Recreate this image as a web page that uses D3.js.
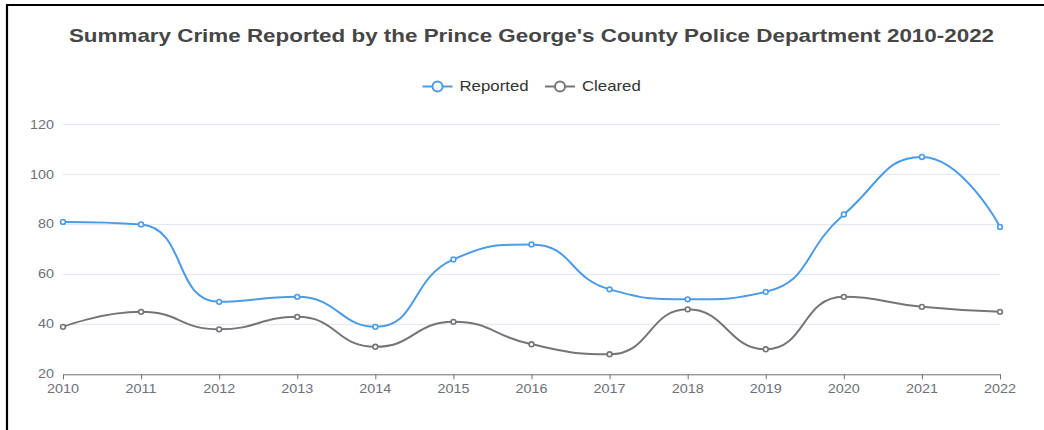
<!DOCTYPE html>
<html>
<head>
<meta charset="utf-8">
<script src="https://cdn.jsdelivr.net/npm/d3@7/dist/d3.min.js"></script>
<style>
  html, body { margin: 0; padding: 0; background: #fff; }
  svg { display: block; }
</style>
</head>
<body>
<script>
// ---- data ----
const years = ["2010","2011","2012","2013","2014","2015","2016","2017","2018","2019","2020","2021","2022"];
const reported = [81, 80, 49, 51, 39, 66, 72, 54, 50, 53, 84, 107, 79];
const cleared  = [39, 45, 38, 43, 31, 41, 32, 28, 46, 30, 51, 47, 45];
const yTicks = [20, 40, 60, 80, 100, 120];
const seriesNames = ["Reported", "Cleared"];
const seriesColors = ["#4c9be6", "#757575"];
const titleText = "Summary Crime Reported by the Prince George's County Police Department 2010-2022";

const W = 1044, H = 430;
const SX = 1.2; // horizontal stretch of glyphs seen in the reference
const FONT = "'Liberation Sans', Arial, Helvetica, sans-serif";

const svg = d3.select("body").append("svg").attr("width", W).attr("height", H);

// frame (left + top black border)
svg.append("line").attr("x1", 7).attr("x2", W).attr("y1", 5).attr("y2", 5)
  .attr("stroke", "#000").attr("stroke-width", 2.2);
svg.append("line").attr("x1", 7).attr("x2", 7).attr("y1", 4).attr("y2", H)
  .attr("stroke", "#000").attr("stroke-width", 2.2);

const x = d3.scalePoint().domain(years).range([63, 1000]);
const y = d3.scaleLinear().domain([20, 120]).range([374.3, 124.5]);

function stretchedText(g, tx, ty, txt, opts) {
  const t = g.append("text")
    .attr("transform", `translate(${tx},${ty}) scale(${opts.sx || SX},1)`)
    .attr("font-family", FONT)
    .attr("font-size", opts.size)
    .attr("fill", opts.fill)
    .attr("text-anchor", opts.anchor || "start")
    .attr("dominant-baseline", opts.baseline || "auto")
    .text(txt);
  if (opts.weight) t.attr("font-weight", opts.weight);
  return t;
}

// title
stretchedText(svg, 531.5, 41.5, titleText, {size: 18, fill: "#464646", anchor: "middle", weight: "bold", sx: 1.245});

// gridlines
const grid = svg.append("g");
yTicks.forEach(v => {
  if (v === 20) return;
  grid.append("line").attr("x1", 63).attr("x2", 1000).attr("y1", y(v)).attr("y2", y(v))
    .attr("stroke", "#E0E6F1").attr("stroke-width", 1);
});

// y labels
const yl = svg.append("g");
yTicks.forEach(v => {
  stretchedText(yl, 54, y(v), String(v), {size: 12, fill: "#6E7079", anchor: "end", baseline: "central"});
});

// x axis
const xAxis = d3.axisBottom(x).tickSize(5).tickSizeOuter(0).tickFormat("");
const xg = svg.append("g").attr("transform", `translate(0,${y(20)})`).call(xAxis);
xg.select(".domain").attr("stroke", "#6E7079");
xg.selectAll(".tick line").attr("stroke", "#6E7079");
const xl = svg.append("g");
years.forEach(yr => {
  stretchedText(xl, x(yr), 392.7, yr, {size: 12, fill: "#6E7079", anchor: "middle"});
});

// ECharts-like smooth path (smooth = 0.5, with extreme clamping)
function smoothPath(pts, smooth) {
  const p = d3.path();
  let cpx0, cpy0, prevX, prevY;
  for (let i = 0; i < pts.length; i++) {
    const [px, py] = pts[i];
    if (i === 0) { p.moveTo(px, py); cpx0 = px; cpy0 = py; }
    else {
      let cpx1, cpy1, nextCpx0, nextCpy0;
      if (i === pts.length - 1) { cpx1 = px; cpy1 = py; }
      else {
        const [nx, ny] = pts[i + 1];
        let vx = nx - prevX, vy = ny - prevY;
        const dx0 = px - prevX, dy0 = py - prevY, dx1 = nx - px, dy1 = ny - py;
        const lenPrev = Math.sqrt(dx0*dx0 + dy0*dy0);
        const lenNext = Math.sqrt(dx1*dx1 + dy1*dy1);
        const ratio = lenNext / (lenNext + lenPrev);
        nextCpx0 = px + vx * smooth * ratio;
        nextCpy0 = py + vy * smooth * ratio;
        nextCpx0 = Math.min(nextCpx0, Math.max(nx, px));
        nextCpy0 = Math.min(nextCpy0, Math.max(ny, py));
        nextCpx0 = Math.max(nextCpx0, Math.min(nx, px));
        nextCpy0 = Math.max(nextCpy0, Math.min(ny, py));
        vx = nextCpx0 - px; vy = nextCpy0 - py;
        cpx1 = px - vx * lenPrev / lenNext;
        cpy1 = py - vy * lenPrev / lenNext;
        cpx1 = Math.min(cpx1, Math.max(prevX, px));
        cpy1 = Math.min(cpy1, Math.max(prevY, py));
        cpx1 = Math.max(cpx1, Math.min(prevX, px));
        cpy1 = Math.max(cpy1, Math.min(prevY, py));
        vx = px - cpx1; vy = py - cpy1;
        nextCpx0 = px + vx * lenNext / lenPrev;
        nextCpy0 = py + vy * lenNext / lenPrev;
      }
      p.bezierCurveTo(cpx0, cpy0, cpx1, cpy1, px, py);
      cpx0 = nextCpx0; cpy0 = nextCpy0;
    }
    prevX = px; prevY = py;
  }
  return p.toString();
}

const allSeries = [reported, cleared];
allSeries.forEach((vals, si) => {
  const pts = vals.map((v, i) => [x(years[i]), y(v)]);
  const g = svg.append("g");
  g.append("path").attr("d", smoothPath(pts, 0.5))
    .attr("fill", "none").attr("stroke", seriesColors[si]).attr("stroke-width", 2)
    .attr("stroke-linejoin", "round");
  g.selectAll("circle").data(vals).join("circle")
    .attr("cx", (d, i) => x(years[i])).attr("cy", d => y(d)).attr("r", 2.4)
    .attr("fill", "#fff").attr("stroke", seriesColors[si]).attr("stroke-width", 1.6);
});

// legend
const legendItems = [{x0: 422.5, tx: 459.5}, {x0: 545, tx: 582}];
const lg = svg.append("g");
legendItems.forEach((it, i) => {
  const cy = 86.5;
  lg.append("line").attr("x1", it.x0).attr("x2", it.x0 + 30).attr("y1", cy).attr("y2", cy)
    .attr("stroke", seriesColors[i]).attr("stroke-width", 2);
  lg.append("circle").attr("cx", it.x0 + 15).attr("cy", cy).attr("r", 5)
    .attr("fill", "#fff").attr("stroke", seriesColors[i]).attr("stroke-width", 2);
  stretchedText(lg, it.tx, cy, seriesNames[i], {size: 14, fill: "#333", baseline: "central"});
});
</script>
</body>
</html>
